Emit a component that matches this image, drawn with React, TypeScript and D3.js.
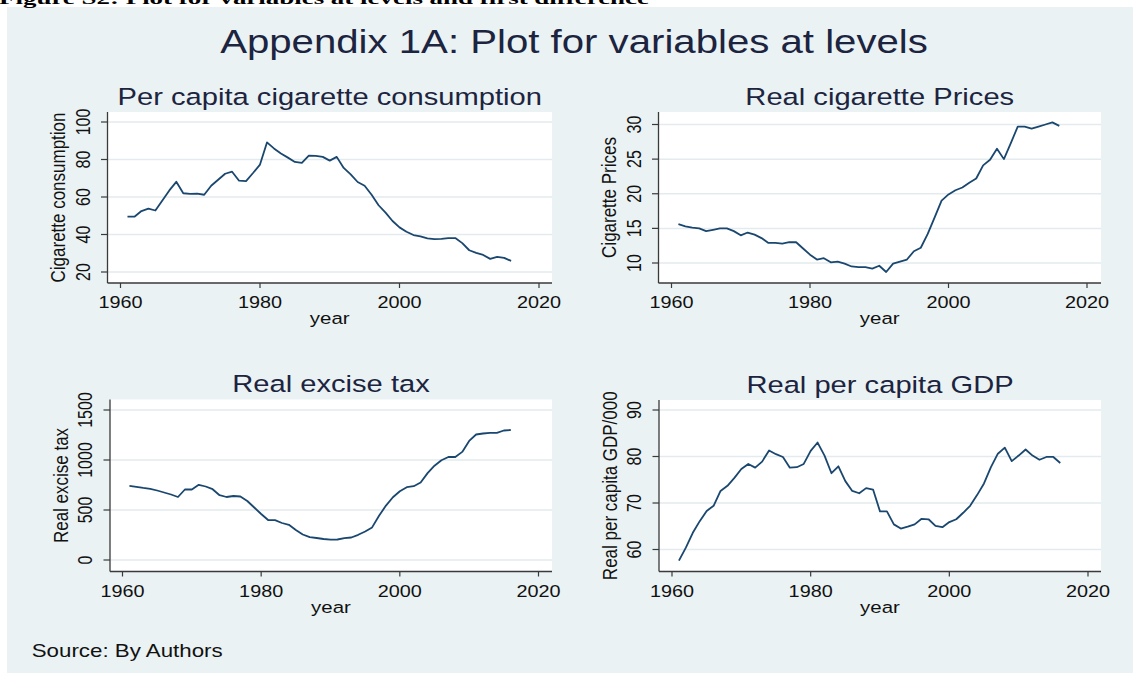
import React from 'react';
import * as d3 from 'd3';

// years on the x axis
const years = d3.range(1961, 2017);
const yearTicks = [1960, 1980, 2000, 2020];

// per capita cigarette consumption
const consumption = [
  49.5, 49.5, 52.5, 53.8, 52.8, 58.1, 63.5, 68.1, 62.0, 61.7,
  61.8, 61.2, 66.0, 69.2, 72.4, 73.5, 68.7, 68.5, 72.8, 77.3,
  89.1, 85.9, 83.2, 81.0, 78.7, 78.2, 82.1, 81.9, 81.4, 79.4,
  81.4, 75.5, 72.1, 68.0, 66.0, 61.2, 55.6, 51.7, 47.2, 43.8,
  41.5, 39.7, 39.0, 37.9, 37.5, 37.7, 38.1, 38.1, 35.4, 31.6,
  30.2, 29.1, 27.0, 28.1, 27.5, 25.9,
];
const consumptionTicks = [20, 40, 60, 80, 100];

// real cigarette prices
const prices = [
  15.6, 15.3, 15.1, 15.0, 14.6, 14.8, 15.0, 15.0, 14.6, 14.0,
  14.4, 14.1, 13.6, 12.9, 12.9, 12.8, 13.0, 13.0, 12.1, 11.2,
  10.5, 10.7, 10.1, 10.2, 9.9, 9.5, 9.4, 9.4, 9.2, 9.6,
  8.7, 9.9, 10.2, 10.5, 11.7, 12.2, 14.2, 16.6, 19.0, 19.9,
  20.5, 20.9, 21.6, 22.2, 24.1, 24.9, 26.5, 25.0, 27.3, 29.7,
  29.7, 29.4, 29.7, 30.0, 30.3, 29.8,
];
const priceTicks = [10, 15, 20, 25, 30];

// real excise tax
const exciseTax = [
  742, 732, 721, 712, 695, 675, 655, 630, 705, 705,
  752, 735, 708, 648, 630, 640, 635, 590, 525, 460,
  400, 398, 370, 352, 300, 255, 228, 220, 210, 203,
  205, 218, 225, 252, 285, 326, 443, 544, 628, 688,
  728, 738, 775, 869, 943, 997, 1030, 1030, 1081, 1191,
  1255, 1265, 1272, 1272, 1295, 1300,
];
const taxTicks = [0, 500, 1000, 1500];

// real per capita GDP / 000
const gdp = [
  57.6, 60.4, 63.6, 66.1, 68.3, 69.4, 72.6, 73.7, 75.4, 77.3,
  78.4, 77.6, 78.9, 81.3, 80.5, 79.9, 77.6, 77.7, 78.4, 81.2,
  83.0, 80.2, 76.4, 77.9, 74.7, 72.6, 72.1, 73.2, 72.9, 68.2,
  68.2, 65.4, 64.5, 64.9, 65.4, 66.6, 66.5, 65.1, 64.8, 65.9,
  66.5, 67.9, 69.4, 71.7, 74.2, 77.7, 80.6, 81.9, 79.0, 80.2,
  81.5, 80.2, 79.3, 79.9, 79.9, 78.6,
];
const gdpTicks = [60, 70, 80, 90];

const W = 1133;
const H = 675;
const SX = 1.24; // the original graph is stretched sideways
const FONT = "'Liberation Sans', Arial, sans-serif";
const BG = '#eaf2f3';
const GRID = '#e3ebee';
const AXIS = '#3a3a3a';
const LINE = '#1a476f';
const TITLE = '#1c2440';
const TEXT = '#111';

const panels = [
  {
    title: 'Per capita cigarette consumption', ytitle: 'Cigarette consumption',
    values: consumption, ticks: consumptionTicks,
    box: { left: 107.5, right: 552, top: 112, bottom: 283 },
    xr: [120.5, 539], yr: [272, 122],
  },
  {
    title: 'Real cigarette Prices', ytitle: 'Cigarette Prices',
    values: prices, ticks: priceTicks,
    box: { left: 658.5, right: 1101, top: 112, bottom: 283 },
    xr: [671.5, 1087], yr: [263, 124.5],
  },
  {
    title: 'Real excise tax', ytitle: 'Real excise tax',
    values: exciseTax, ticks: taxTicks,
    box: { left: 110, right: 552, top: 399.5, bottom: 571.5 },
    xr: [122.5, 538.5], yr: [560, 410],
  },
  {
    title: 'Real per capita GDP', ytitle: 'Real per capita GDP/000',
    values: gdp, ticks: gdpTicks,
    box: { left: 659, right: 1101, top: 400, bottom: 571.5 },
    xr: [672, 1088], yr: [549.5, 410],
  },
];

function HText({ x, y, size, anchor = 'middle', fill = TEXT, weight = 'normal', family = FONT, children }: any) {
  return (
    <text transform={`translate(${x},${y}) scale(${SX},1)`} textAnchor={anchor}
      fontSize={size} fontFamily={family} fontWeight={weight} fill={fill}>
      {children}
    </text>
  );
}

function VText({ x, y, size, fill = TEXT, children }: any) {
  return (
    <text transform={`translate(${x},${y}) scale(${SX},1) rotate(-90)`} textAnchor="middle"
      fontSize={size} fontFamily={FONT} fill={fill}>
      {children}
    </text>
  );
}

function Panel({ p }: any) {
  const { box } = p;
  const x = d3.scaleLinear().domain([1960, 2020]).range(p.xr);
  const y = d3.scaleLinear().domain([p.ticks[0], p.ticks[p.ticks.length - 1]]).range(p.yr);
  const line = d3.line<number>().x((d, i) => x(years[i])).y(d => y(d));
  const midX = (box.left + box.right) / 2;
  const midY = (box.top + box.bottom) / 2;

  return (
    <g>
      <rect x={box.left} y={box.top} width={box.right - box.left} height={box.bottom - box.top} fill="#fff" />
      {p.ticks.map((t: number) => (
        <line key={'g' + t} x1={box.left} x2={box.right} y1={y(t)} y2={y(t)} stroke={GRID} strokeWidth={1.5} />
      ))}
      <path d={line(p.values) || ''} fill="none" stroke={LINE} strokeWidth={1.8} strokeLinejoin="round" />

      {/* axes */}
      <line x1={box.left} x2={box.left} y1={box.top} y2={box.bottom} stroke={AXIS} strokeWidth={1.3} />
      <line x1={box.left} x2={box.right} y1={box.bottom} y2={box.bottom} stroke={AXIS} strokeWidth={1.3} />
      {p.ticks.map((t: number) => (
        <g key={'y' + t}>
          <line x1={box.left - 6.5} x2={box.left} y1={y(t)} y2={y(t)} stroke={AXIS} strokeWidth={1.2} />
          <VText x={box.left - 18} y={y(t)} size={16}>{t}</VText>
        </g>
      ))}
      {yearTicks.map(t => (
        <g key={'x' + t}>
          <line x1={x(t)} x2={x(t)} y1={box.bottom} y2={box.bottom + 5} stroke={AXIS} strokeWidth={1.2} />
          <HText x={x(t)} y={box.bottom + 25} size={16}>{t}</HText>
        </g>
      ))}

      <HText x={midX} y={box.bottom + 41} size={16.5}>year</HText>
      <VText x={box.left - 42.5} y={midY} size={17}>{p.ytitle}</VText>
      <HText x={midX} y={box.top - 7.5} size={23.5} fill={TITLE}>{p.title}</HText>
    </g>
  );
}

export default function App() {
  return (
    <svg width={W} height={H} style={{ position: 'absolute', left: 0, top: 0, background: '#fff' }}>
      <rect x={7} y={7} width={W - 7} height={666} fill={BG} />
      {/* caption of the page above, cut off at the top edge as in the source */}
      <text x={-1} y={3.5} fontSize={17} fontWeight="bold" fill="#000" textLength={650}
        lengthAdjust="spacingAndGlyphs" fontFamily="'Liberation Serif', 'Times New Roman', serif">
        Figure S2: Plot for variables at levels and first difference
      </text>
      <HText x={574} y={53.3} size={32.4} fill={TITLE}>Appendix 1A: Plot for variables at levels</HText>
      {panels.map(p => <Panel key={p.title} p={p} />)}
      <HText x={31.7} y={656.7} size={18} anchor="start" fill={TEXT}>Source: By Authors</HText>
    </svg>
  );
}
